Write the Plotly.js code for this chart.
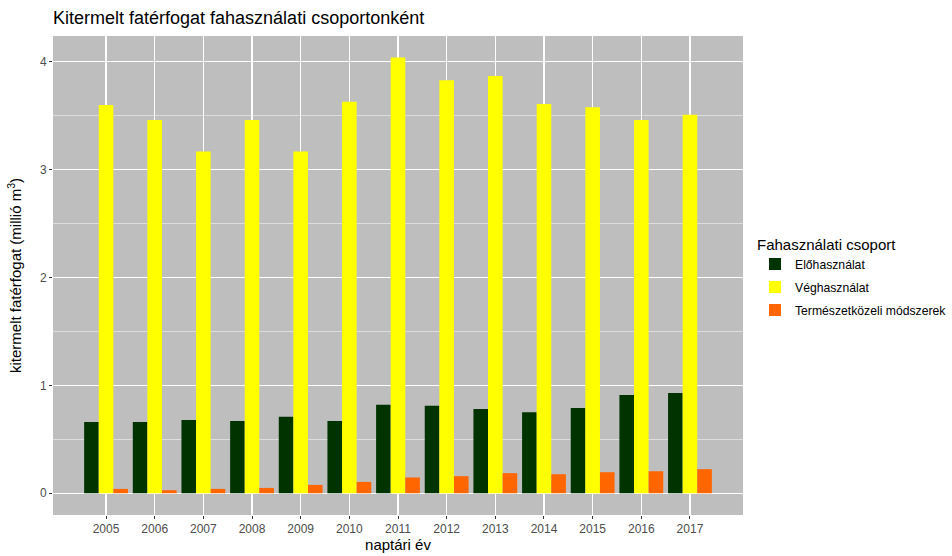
<!DOCTYPE html>
<html>
<head>
<meta charset="utf-8">
<script src="https://cdn.plot.ly/plotly-3.0.1.min.js"></script>
<style>html,body{margin:0;padding:0;background:#fff;}#chart{width:952px;height:556px;}</style>
</head>
<body>
<div id="chart"></div>
<script>
const years = [2005, 2006, 2007, 2008, 2009, 2010, 2011, 2012, 2013, 2014, 2015, 2016, 2017];
const seriesNames = ["Előhasználat", "Véghasználat", "Természetközeli módszerek"];
const eloHasznalat = [0.66, 0.66, 0.68, 0.67, 0.71, 0.67, 0.82, 0.81, 0.78, 0.75, 0.79, 0.91, 0.93];
const vegHasznalat = [3.60, 3.46, 3.17, 3.46, 3.17, 3.63, 4.04, 3.83, 3.87, 3.61, 3.58, 3.46, 3.51];
const termeszetkozeli = [0.04, 0.028, 0.04, 0.049, 0.077, 0.105, 0.146, 0.158, 0.186, 0.176, 0.195, 0.204, 0.223];
const colors = ["#003300", "#FFFF00", "#FF6600"];

const FONT = "Liberation Sans, Arial, sans-serif";
const allSeries = [eloHasznalat, vegHasznalat, termeszetkozeli];
const traces = allSeries.map((vals, i) => ({
  type: "bar",
  x: years,
  y: vals,
  name: seriesNames[i],
  legendgroup: "g" + i,
  marker: {color: colors[i], line: {width: 0}},
  hoverinfo: "x+y+name"
}));

const layout = {
  width: 952,
  height: 556,
  margin: {l: 53, r: 209, t: 36, b: 41, autoexpand: false},
  paper_bgcolor: "#FFFFFF",
  plot_bgcolor: "#BEBEBE",
  barmode: "group",
  bargap: 0.1,
  bargroupgap: 0,
  font: {family: FONT, color: "#000000"},
  title: {
    text: "Kitermelt fatérfogat fahasználati csoportonként",
    font: {family: FONT, size: 18, color: "#000000"},
    x: 53 / 952,
    xanchor: "left",
    xref: "container",
    y: 1 - 18 / 556,
    yanchor: "middle",
    yref: "container"
  },
  xaxis: {
    range: [2003.91, 2018.09],
    tickmode: "array",
    tickvals: years,
    ticktext: years.map(String),
    ticks: "outside",
    ticklen: 3,
    tickwidth: 1,
    tickcolor: "#333333",
    tickfont: {family: FONT, size: 12, color: "#4D4D4D"},
    showgrid: true,
    gridcolor: "#FFFFFF",
    gridwidth: 1.1,
    zeroline: false,
    showline: false,
    automargin: false,
    title: {text: "naptári év", font: {family: FONT, size: 15, color: "#000000"}, standoff: 4}
  },
  yaxis: {
    range: [-0.202, 4.24],
    tickmode: "array",
    tickvals: [0, 1, 2, 3, 4],
    ticktext: ["0", "1", "2", "3", "4"],
    ticks: "outside",
    ticklen: 3,
    tickwidth: 1,
    tickcolor: "#333333",
    tickfont: {family: FONT, size: 12, color: "#4D4D4D"},
    showgrid: true,
    gridcolor: "#FFFFFF",
    gridwidth: 1.1,
    minor: {tickmode: "array", tickvals: [0.5, 1.5, 2.5, 3.5], showgrid: true, gridcolor: "#F2F2F2", gridwidth: 0.6, ticks: ""},
    zeroline: false,
    showline: false,
    automargin: false,
    title: {text: "kitermelt fatérfogat (millió m<sup>3</sup>)", font: {family: FONT, size: 15, color: "#000000"}, standoff: 14}
  },
  legend: {
    xref: "container",
    x: 755 / 952,
    xanchor: "left",
    yref: "container",
    y: 1 - 230 / 556,
    yanchor: "top",
    bgcolor: "rgba(0,0,0,0)",
    tracegroupgap: 4,
    font: {family: FONT, size: 12.2, color: "#000000"},
    title: {text: "Fahasználati csoport", font: {family: FONT, size: 15, color: "#000000"}}
  },
  showlegend: true
};

Plotly.newPlot("chart", traces, layout, {displayModeBar: false, staticPlot: true});
</script>
</body>
</html>
